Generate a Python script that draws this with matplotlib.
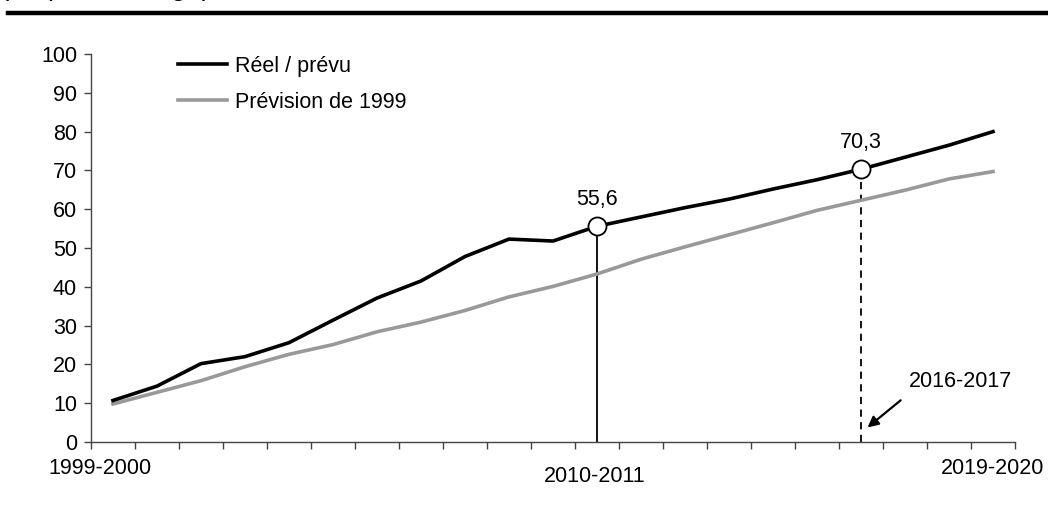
import matplotlib.pyplot as plt
import numpy as np

plt.rcParams['font.family'] = ['Liberation Sans', 'DejaVu Sans']

# school years 1999-2000 ... 2019-2020
years = ["%d-%d" % (y, y + 1) for y in range(1999, 2020)]
reel = [10.7, 14.4, 20.2, 22.0, 25.6, 31.4, 37.1, 41.5, 47.8, 52.3, 51.8,
        55.6, 58.0, 60.4, 62.6, 65.2, 67.6, 70.3, 73.4, 76.5, 80.0]
prevision = [9.8, 12.8, 15.8, 19.4, 22.6, 25.1, 28.4, 30.9, 33.9, 37.4, 40.1,
             43.3, 47.1, 50.3, 53.4, 56.5, 59.7, 62.3, 64.9, 67.8, 69.7]
highlight = ["2010-2011", "2016-2017"]
shown_labels = ["1999-2000", "2010-2011", "2019-2020"]

FS = 15.5
x = np.arange(len(years))

fig = plt.figure(figsize=(10.48, 5.12), dpi=100)
ax = fig.add_axes([0.0868, 0.1367, 0.8817, 0.7578])

ax.plot(x, reel, color="black", lw=2.6, label="Réel / prévu", zorder=3)
ax.plot(x, prevision, color="#999999", lw=2.6, label="Prévision de 1999", zorder=2)

# highlighted years
i1 = years.index(highlight[0])
i2 = years.index(highlight[1])
ax.vlines(x[i1], 0, reel[i1], color="black", lw=1.3, zorder=1)
ax.vlines(x[i2], 0, reel[i2], color="black", lw=1.3, linestyles=(0, (4, 3)), zorder=1)
for i in (i1, i2):
    ax.plot(x[i], reel[i], "o", ms=13, mfc="white", mec="black", mew=1.3, zorder=4)
    ax.annotate(f"{reel[i]:.1f}".replace(".", ","), (x[i], reel[i]),
                xytext=(0, 19), textcoords="offset points", ha="center",
                va="center", fontsize=FS)

ax.annotate("", xy=(x[i2] + 0.1, 3.3), xytext=(x[i2] + 0.95, 11.2),
            arrowprops=dict(arrowstyle="-|>", color="black", lw=1.6,
                            mutation_scale=16))
ax.text(x[i2] + 1.08, 15.5, highlight[1], fontsize=FS, va="center", ha="left")

ax.set_xlim(-0.5, len(years) - 0.5)
ax.set_ylim(0, 100)
ax.set_yticks(range(0, 101, 10))
ax.set_xticks(np.arange(-0.5, len(years), 1))
ax.set_xticklabels([])
ax.tick_params(axis="y", labelsize=FS, length=5, width=1, color="#444444", pad=5)
ax.tick_params(axis="x", length=5, width=1, color="#444444")
for s in ["top", "right"]:
    ax.spines[s].set_visible(False)
for s in ["left", "bottom"]:
    ax.spines[s].set_color("#444444")
    ax.spines[s].set_linewidth(1)

# category labels under the axis
trans = ax.get_xaxis_transform()
offsets = {"1999-2000": (-0.3, -0.068), "2010-2011": (-0.05, -0.09), "2019-2020": (0.0, -0.068)}
for lab in shown_labels:
    dx, yy = offsets[lab]
    ax.text(years.index(lab) + dx, yy, lab, transform=trans, ha="center",
            va="center", fontsize=FS)

leg = ax.legend(loc="upper left", bbox_to_anchor=(0.073, 1.045), frameon=False,
                fontsize=FS, handlelength=2.3, handletextpad=0.35,
                labelspacing=0.7)

# header remnant (cut off at the top, as in the source)
fig.text(0.0, 1 + 5 / 512, "(en pourcentage)", fontsize=20, va="baseline")
fig.add_artist(plt.Line2D([0.008, 1.0], [1 - 13 / 512, 1 - 13 / 512],
                          color="black", lw=3.2, transform=fig.transFigure))

fig.savefig("out.png", dpi=100)
